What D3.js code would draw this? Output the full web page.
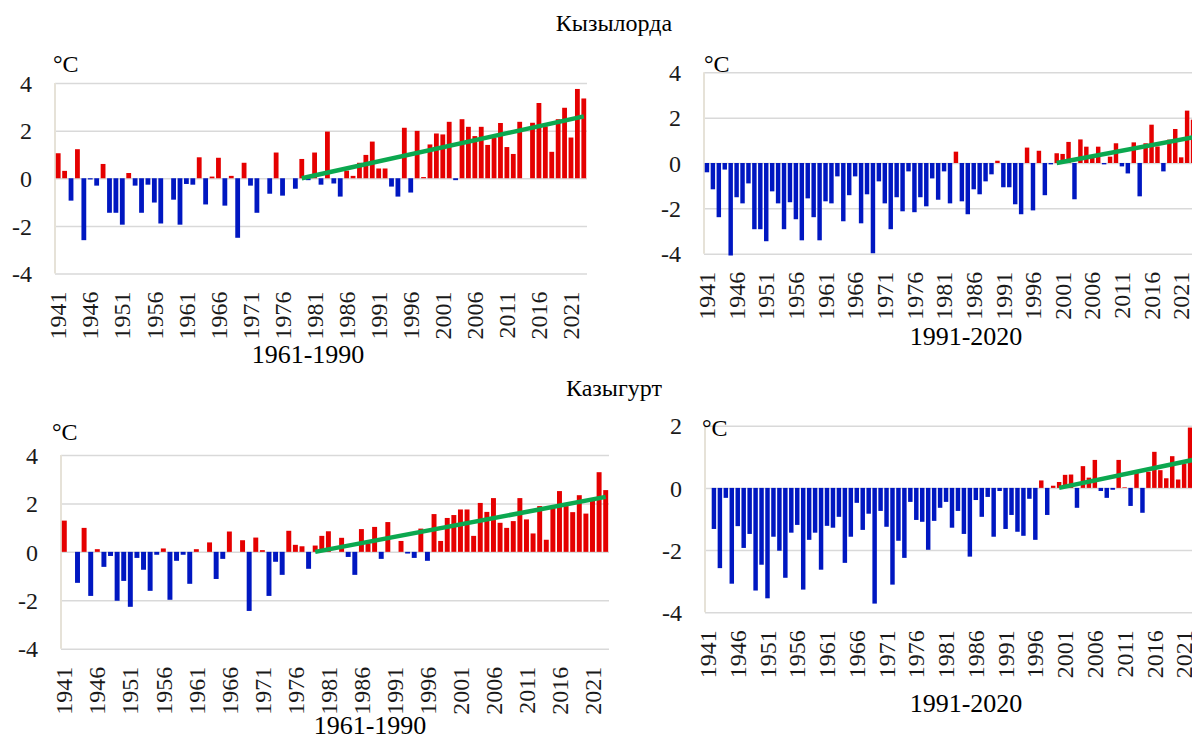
<!DOCTYPE html>
<html>
<head>
<meta charset="utf-8">
<script src="https://cdn.jsdelivr.net/npm/d3@7"></script>
<style>
  body { margin: 0; background: #fff; }
  svg { display: block; font-family: "Liberation Serif", "Times New Roman", serif; }
</style>
</head>
<body>
<div id="chart"></div>
<script>
const years = d3.range(1941, 2024);
const tickYears = d3.range(1941, 2024, 5);

// anomalies, degC (Kyzylorda)
const kyzylorda6190 = [1.05, 0.31, -0.94, 1.22, -2.6, -0.05, -0.31, 0.6, -1.45, -1.45,
  -1.95, 0.22, -0.31, -1.45, -0.27, -1.02, -1.9, 0, -0.9, -1.95,
  -0.24, -0.27, 0.88, -1.1, 0.07, 0.86, -1.15, 0.1, -2.5, 0.65,
  -0.31, -1.45, 0, -0.65, 1.08, -0.73, 0, -0.44, 0.81, -0.08,
  1.08, -0.27, 1.96, -0.22, -0.77, 0.32, 0.1, 0.65, 0.98, 1.54,
  0.41, 0.41, -0.35, -0.77, 2.12, -0.6, 1.99, 0.05, 1.42, 1.88,
  1.84, 2.37, -0.08, 2.48, 2.16, 1.77, 2.16, 1.4, 1.7, 2.32,
  1.31, 1.02, 2.37, 0, 2.33, 3.16, 2.18, 1.11, 2.48, 2.96,
  1.71, 3.75, 3.35];
const kyzylorda9120 = [-0.41, -1.16, -2.39, -0.29, -4.08, -1.51, -1.78, -0.9, -2.92, -2.92,
  -3.45, -1.25, -1.78, -2.92, -1.73, -2.48, -3.41, -1.56, -2.39, -3.41,
  -1.69, -1.78, -0.59, -2.57, -1.42, -0.59, -2.66, -1.38, -3.98, -0.81,
  -1.78, -2.92, -1.51, -2.13, -0.37, -2.17, -1.51, -1.91, -0.68, -1.62,
  -0.37, -1.78, 0.5, -1.69, -2.26, -1.16, -1.38, -0.81, -0.5, 0.1,
  -1.07, -1.07, -1.82, -2.26, 0.68, -2.09, 0.54, -1.42, -0.06, 0.43,
  0.4, 0.93, -1.6, 1.04, 0.72, 0.3, 0.72, -0.06, 0.28, 0.87,
  -0.15, -0.46, 0.91, -1.47, 0.87, 1.69, 0.73, -0.37, 1.03, 1.5,
  0.25, 2.31, 1.91];

// anomalies, degC (Kazygurt)
const kazygurt6190 = [1.29, 0, -1.28, 0.99, -1.82, 0.11, -0.62, -0.17, -2.02, -1.2,
  -2.27, -0.25, -0.74, -1.61, -0.12, 0.14, -1.98, -0.37, -0.12, -1.32,
  0.11, 0, 0.39, -1.12, -0.29, 0.84, 0, 0.48, -2.44, 0.59,
  0.07, -1.82, -0.41, -0.95, 0.87, 0.29, 0.23, -0.7, 0.26, 0.66,
  0.85, 0, 0.58, -0.21, -0.95, 0.94, 0.35, 1.03, -0.29, 1.23,
  0, 0.45, -0.07, -0.25, 0.96, -0.37, 1.56, 0.45, 1.4, 1.52,
  1.75, 1.75, 0.66, 2.02, 1.65, 2.22, 1.2, 0.99, 1.27, 2.22,
  1.34, 0.76, 1.89, 0.5, 1.84, 2.51, 1.89, 1.64, 2.34, 1.58,
  2.11, 3.29, 2.55];
const kazygurt9120 = [0, -1.32, -2.58, -0.32, -3.08, -1.23, -1.93, -1.48, -3.3, -2.47,
  -3.55, -1.57, -2.02, -2.89, -1.44, -1.19, -3.27, -1.67, -1.44, -2.63,
  -1.22, -1.28, -0.93, -2.41, -1.57, -0.48, -1.35, -0.83, -3.72, -0.74,
  -1.25, -3.11, -1.7, -2.25, -0.45, -1.03, -1.09, -1.99, -1.06, -0.64,
  -0.45, -1.28, -0.74, -1.48, -2.21, -0.39, -0.93, -0.29, -1.57, -0.1,
  -1.32, -0.87, -1.41, -1.54, -0.35, -1.67, 0.24, -0.87, 0.07, 0.19,
  0.42, 0.43, -0.64, 0.7, 0.33, 0.9, -0.1, -0.32, -0.06, 0.9,
  0.02, -0.58, 0.56, -0.8, 0.52, 1.16, 0.57, 0.31, 1.02, 0.27,
  0.78, 1.94, 1.25];

// linear trend end points [year, value]
const trendKyz6190 = [[1979, 0], [2023, 2.6]];
const trendKyz9120 = [[2000, 0], [2023, 1.13]];
const trendKaz6190 = [[1979, 0], [2023, 2.27]];
const trendKaz9120 = [[2000, 0], [2023, 0.92]];

const ticksWide = [-4, -2, 0, 2, 4];
const ticksLow = [-4, -2, 0, 2];

const width = 1192, height = 738;

const svg = d3.select("#chart")
  .append("svg")
  .attr("width", width)
  .attr("height", height)
  .attr("viewBox", [0, 0, width, height]);

svg.append("text").attr("x", 614).attr("y", 31).attr("text-anchor", "middle")
  .style("font-size", "24px").text("Кызылорда");
svg.append("text").attr("x", 614).attr("y", 396).attr("text-anchor", "middle")
  .style("font-size", "24px").text("Казыгурт");

const panels = [
  { values: kyzylorda6190, trend: trendKyz6190, ticks: ticksWide, left: 55, right: 587, top: 83, bottom: 273.5,
    tickX: 32, label: "1961-1990", labelX: 308, labelY: 363, unitX: 53, unitY: 72 },
  { values: kyzylorda9120, trend: trendKyz9120, ticks: ticksWide, left: 704, right: 1196, top: 72.3, bottom: 253.7,
    tickX: 681, label: "1991-2020", labelX: 966, labelY: 345, unitX: 704, unitY: 72 },
  { values: kazygurt6190, trend: trendKaz6190, ticks: ticksWide, left: 61, right: 609, top: 455, bottom: 648.7,
    tickX: 38, label: "1961-1990", labelX: 370, labelY: 734, unitX: 52, unitY: 440 },
  { values: kazygurt9120, trend: trendKaz9120, ticks: ticksLow, left: 705, right: 1199, top: 425.7, bottom: 612.3,
    tickX: 682, label: "1991-2020", labelX: 966, labelY: 712, unitX: 702, unitY: 436 }
];

panels.forEach(p => drawPanel(p));

function drawPanel(p) {
  const g = svg.append("g");

  let x = d3.scaleBand(years, [p.left, p.right]).paddingInner(0.25).paddingOuter(0.125);
  let y = d3.scaleLinear(d3.extent(p.ticks), [p.bottom, p.top]);
  const bw = x.bandwidth();

  // grid + tick labels
  g.append("g")
    .attr("transform", `translate(${p.left},0)`)
    .call(d3.axisLeft(y).tickValues(p.ticks).tickFormat(d => String(d))
      .tickSize(-(p.right - p.left)))
    .attr("font-family", null)
    .attr("font-size", null)
    .call(a => a.select(".domain").remove())
    .call(a => a.selectAll(".tick line").attr("stroke", "#d9d9d9").attr("stroke-width", 1.5))
    .call(a => a.selectAll(".tick text")
      .attr("fill", "#1a1a1a")
      .attr("x", p.tickX - p.left)
      .attr("dy", "0.34em")
      .style("font-size", "24px"));

  // left axis line
  g.append("line")
    .attr("x1", p.left).attr("x2", p.left)
    .attr("y1", y(d3.max(p.ticks))).attr("y2", y(d3.min(p.ticks)))
    .attr("stroke", "#e6e2d8").attr("stroke-width", 2);

  // year labels
  g.append("g")
    .attr("transform", `translate(0,${p.bottom})`)
    .call(d3.axisBottom(x).tickValues(tickYears).tickSize(0))
    .attr("font-family", null)
    .attr("font-size", null)
    .call(a => a.select(".domain").remove())
    .call(a => a.selectAll(".tick text")
      .attr("fill", "#1a1a1a")
      .attr("transform", "rotate(-90)")
      .attr("x", -18)
      .attr("y", 0)
      .attr("dy", "0.34em")
      .style("text-anchor", "end")
      .style("font-size", "24px"));

  // bars
  g.append("g")
    .selectAll("rect")
    .data(years.map((yr, i) => ({ year: yr, value: p.values[i] })))
    .join("rect")
    .attr("x", d => x(d.year))
    .attr("width", bw)
    .attr("y", d => y(Math.max(0, d.value)))
    .attr("height", d => Math.abs(y(d.value) - y(0)))
    .attr("fill", d => d.value >= 0 ? "#e50000" : "#0017c1");

  // trend
  const line = d3.line()
    .x(d => x(d[0]) + bw / 2)
    .y(d => y(d[1]));
  g.append("path")
    .datum(p.trend)
    .attr("d", line)
    .attr("fill", "none")
    .attr("stroke", "#0ba84f")
    .attr("stroke-width", 4.5);

  g.append("text").attr("x", p.unitX).attr("y", p.unitY)
    .style("font-size", "24px").text("°C");

  g.append("text").attr("x", p.labelX).attr("y", p.labelY)
    .attr("text-anchor", "middle")
    .style("font-size", "26px").text(p.label);
}
</script>
</body>
</html>
